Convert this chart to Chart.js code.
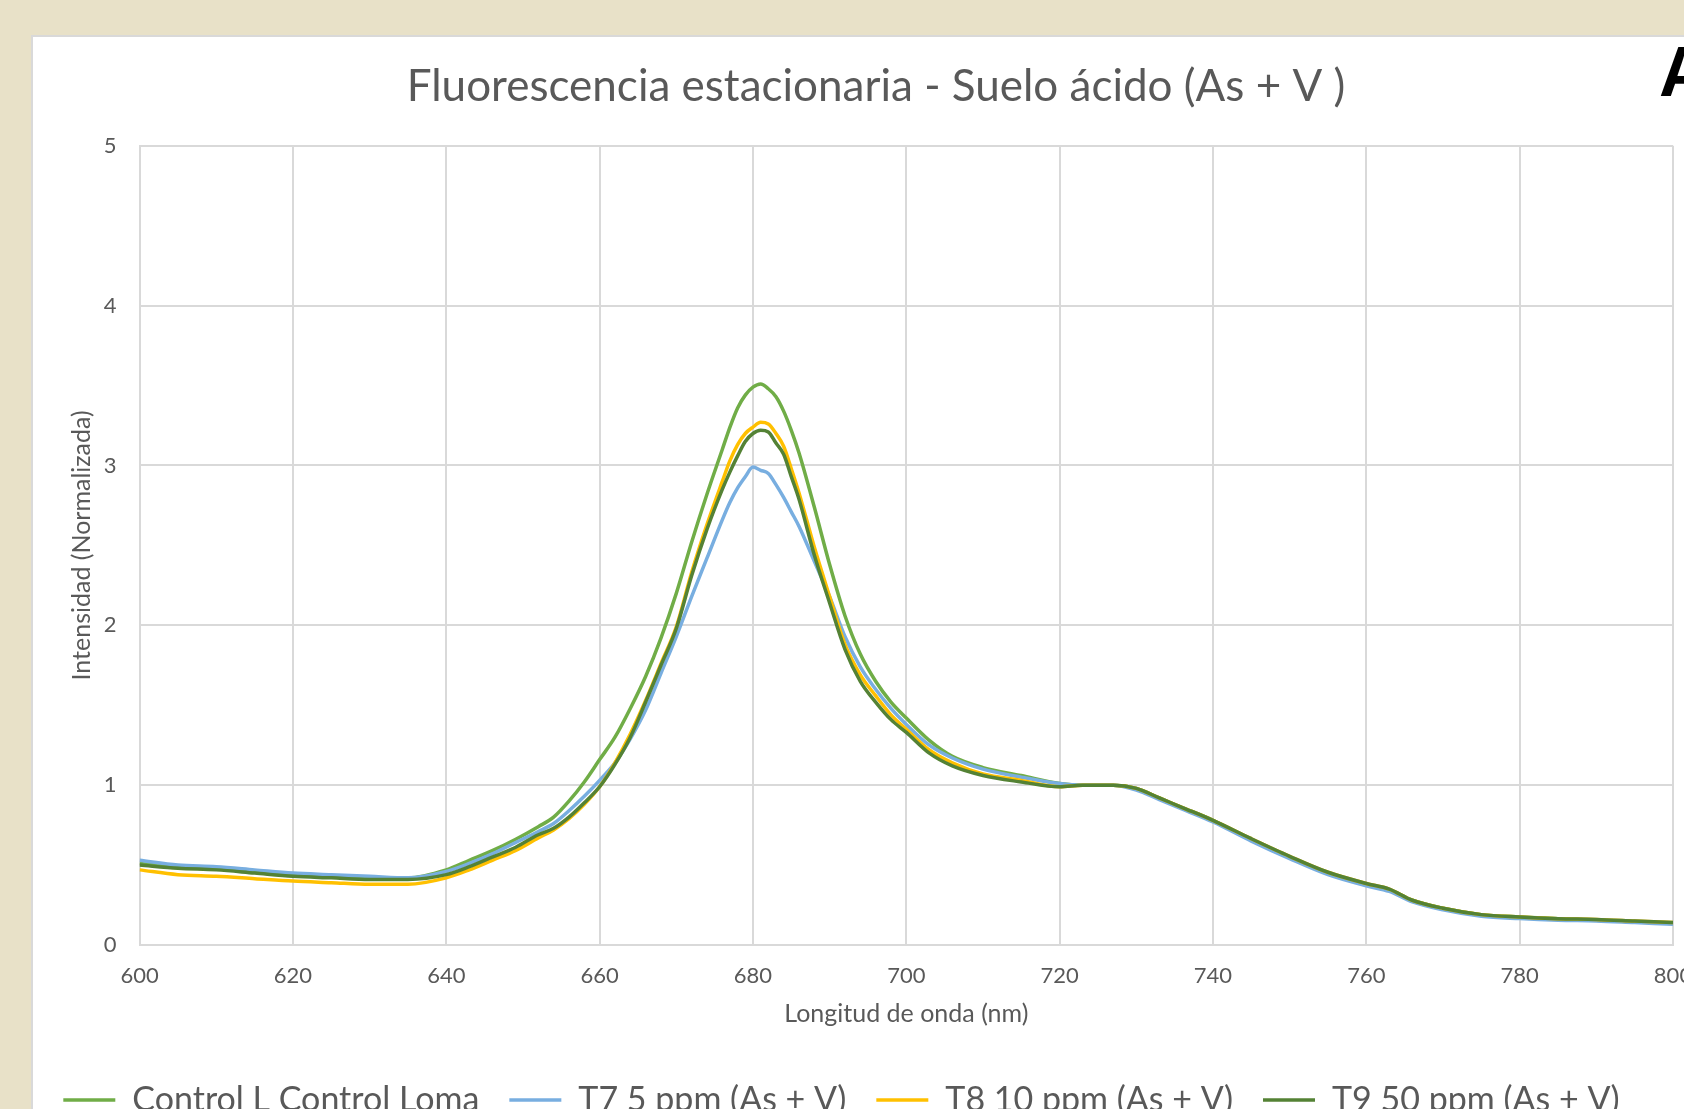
<!DOCTYPE html>
<html>
<head>
<meta charset="utf-8">
<script src="https://cdn.jsdelivr.net/npm/chart.js@4"></script>
<style>
  html, body { margin: 0; padding: 0; overflow: hidden; background: #e8e1c8; width: 1684px; height: 1109px; }
  #panel { position: absolute; left: 31px; top: 35px; width: 1700px; height: 1100px; background: #fff; border-left: 2px solid #d9d9d9; border-top: 2px solid #d9d9d9; }
  #wrap { position: absolute; left: 0; top: 0; }
  #tag { position: absolute; left: 1659px; top: 37px; font: bold 70px "Liberation Sans", Arial, sans-serif; color: #000; line-height: 1; }
</style>
</head>
<body>
<div id="panel"></div>
<div id="tag">A</div>
<div id="wrap"><canvas id="fluoChart" width="1684" height="1127"></canvas></div>
<script>
// longitud de onda (nm)
const wavelengths = [600,605,610,615,620,625,630,635,640,643,646,649,652,654,656,658,660,662,664,666,668,670,672,674,676,677,678,679,680,681,682,683,684,685,686,688,690,692,694,696,698,700,703,706,710,715,720,723,727,730,733,736,740,745,750,755,760,763,766,770,775,780,785,790,795,800];

// intensidad normalizada
const controlLoma = [0.51,0.49,0.48,0.46,0.44,0.43,0.42,0.42,0.47,0.53,0.59,0.66,0.74,0.80,0.90,1.02,1.16,1.30,1.48,1.68,1.92,2.20,2.52,2.82,3.10,3.24,3.36,3.44,3.49,3.51,3.48,3.43,3.34,3.22,3.08,2.74,2.38,2.06,1.82,1.65,1.52,1.42,1.28,1.18,1.11,1.06,1.01,1.00,1.00,0.98,0.92,0.86,0.78,0.66,0.55,0.45,0.38,0.345,0.28,0.23,0.19,0.175,0.165,0.155,0.145,0.135];
const t7 = [0.53,0.50,0.49,0.47,0.45,0.44,0.43,0.42,0.46,0.51,0.57,0.64,0.71,0.76,0.84,0.93,1.03,1.14,1.29,1.47,1.70,1.93,2.18,2.42,2.66,2.77,2.86,2.93,2.99,2.97,2.95,2.88,2.80,2.71,2.62,2.40,2.18,1.93,1.74,1.60,1.48,1.38,1.25,1.17,1.10,1.05,1.01,1.00,1.00,0.97,0.91,0.85,0.77,0.65,0.54,0.44,0.37,0.335,0.27,0.22,0.18,0.165,0.155,0.15,0.14,0.13];
const t8 = [0.47,0.44,0.43,0.415,0.40,0.39,0.38,0.38,0.42,0.47,0.53,0.59,0.67,0.72,0.79,0.88,0.99,1.14,1.32,1.53,1.76,1.99,2.33,2.63,2.90,3.03,3.13,3.20,3.24,3.27,3.26,3.20,3.12,2.98,2.83,2.49,2.18,1.88,1.69,1.56,1.44,1.35,1.22,1.14,1.07,1.03,0.99,1.00,1.00,0.98,0.92,0.86,0.78,0.665,0.555,0.455,0.385,0.35,0.28,0.23,0.19,0.175,0.165,0.16,0.15,0.14];
const t9 = [0.50,0.48,0.47,0.45,0.43,0.42,0.41,0.41,0.44,0.49,0.55,0.61,0.69,0.73,0.80,0.89,0.99,1.13,1.30,1.52,1.75,1.98,2.31,2.60,2.85,2.96,3.06,3.15,3.20,3.22,3.21,3.14,3.07,2.93,2.79,2.44,2.14,1.85,1.65,1.52,1.41,1.33,1.20,1.12,1.06,1.02,0.99,1.00,1.00,0.98,0.92,0.86,0.78,0.665,0.555,0.455,0.385,0.35,0.28,0.23,0.19,0.175,0.165,0.16,0.15,0.14];

const seriesNames = ['Control L Control Loma', 'T7 5 ppm (As + V)', 'T8 10 ppm (As + V)', 'T9 50 ppm (As + V)'];
const seriesColors = ['#70ad47', '#78aee0', '#ffc000', '#548235'];
const seriesValues = [controlLoma, t7, t8, t9];

const FONT = 'Lato';
const GREY = '#595959';
const GRID = '#d9d9d9';

function toPoints(values) {
    return wavelengths.map((nm, i) => ({ x: nm, y: values[i] }));
}

// corre titulo y leyenda para que queden como en el original
const shiftBoxes = {
    id: 'shiftBoxes',
    afterLayout(chart) {
        chart.titleBlock.left += 39.5;
        chart.titleBlock.right += 39.5;
        chart.legend.left += 5;
        chart.legend.right += 5;
    }
};

const ctx = document.getElementById('fluoChart').getContext('2d');
new Chart(ctx, {
    type: 'line',
    data: {
        datasets: seriesValues.map((vals, i) => ({
            label: seriesNames[i],
            data: toPoints(vals),
            borderColor: seriesColors[i],
            backgroundColor: seriesColors[i],
            borderWidth: 3.5,
            pointRadius: 0,
            cubicInterpolationMode: 'monotone',
            order: seriesValues.length - i   // la ultima serie queda encima
        }))
    },
    options: {
        responsive: false,
        animation: false,
        devicePixelRatio: 1,
        layout: { padding: { left: 0, right: 11, top: 0, bottom: 0 }, autoPadding: false },
        plugins: {
            tooltip: { enabled: false },
            title: {
                display: true,
                text: 'Fluorescencia estacionaria - Suelo ácido (As + V )',
                color: GREY,
                font: { family: FONT, size: 44, weight: 'normal' },
                padding: { top: 60, bottom: 33 }
            },
            legend: {
                position: 'bottom',
                labels: {
                    usePointStyle: true,
                    pointStyle: 'line',
                    pointStyleWidth: 52,
                    padding: 30,
                    color: GREY,
                    font: { family: FONT, size: 34 },
                    sort: (a, b) => a.datasetIndex - b.datasetIndex
                }
            }
        },
        scales: {
            x: {
                type: 'linear',
                min: 600,
                max: 800,
                afterFit: (s) => { s.height = 108; s.paddingLeft = 0; s.paddingRight = 0; },
                ticks: { stepSize: 20, color: GREY, padding: 18, font: { family: FONT, size: 22 }, maxRotation: 0 },
                grid: { color: GRID, lineWidth: 2, drawTicks: false },
                border: { color: GRID, width: 2 },
                title: {
                    display: true,
                    text: 'Longitud de onda (nm)',
                    color: GREY,
                    font: { family: FONT, size: 25 },
                    padding: { top: 0, bottom: 24 }
                }
            },
            y: {
                min: 0,
                max: 5,
                afterFit: (s) => { s.width = 139.6; },
                ticks: { stepSize: 1, color: GREY, padding: 23, font: { family: FONT, size: 22 } },
                grid: { color: GRID, lineWidth: 2, drawTicks: false },
                border: { color: GRID, width: 2 },
                title: {
                    display: true,
                    text: 'Intensidad (Normalizada)',
                    color: GREY,
                    font: { family: FONT, size: 25 },
                    padding: { top: 67, bottom: 0 }
                }
            }
        }
    },
    plugins: [shiftBoxes]
});
</script>
</body>
</html>
